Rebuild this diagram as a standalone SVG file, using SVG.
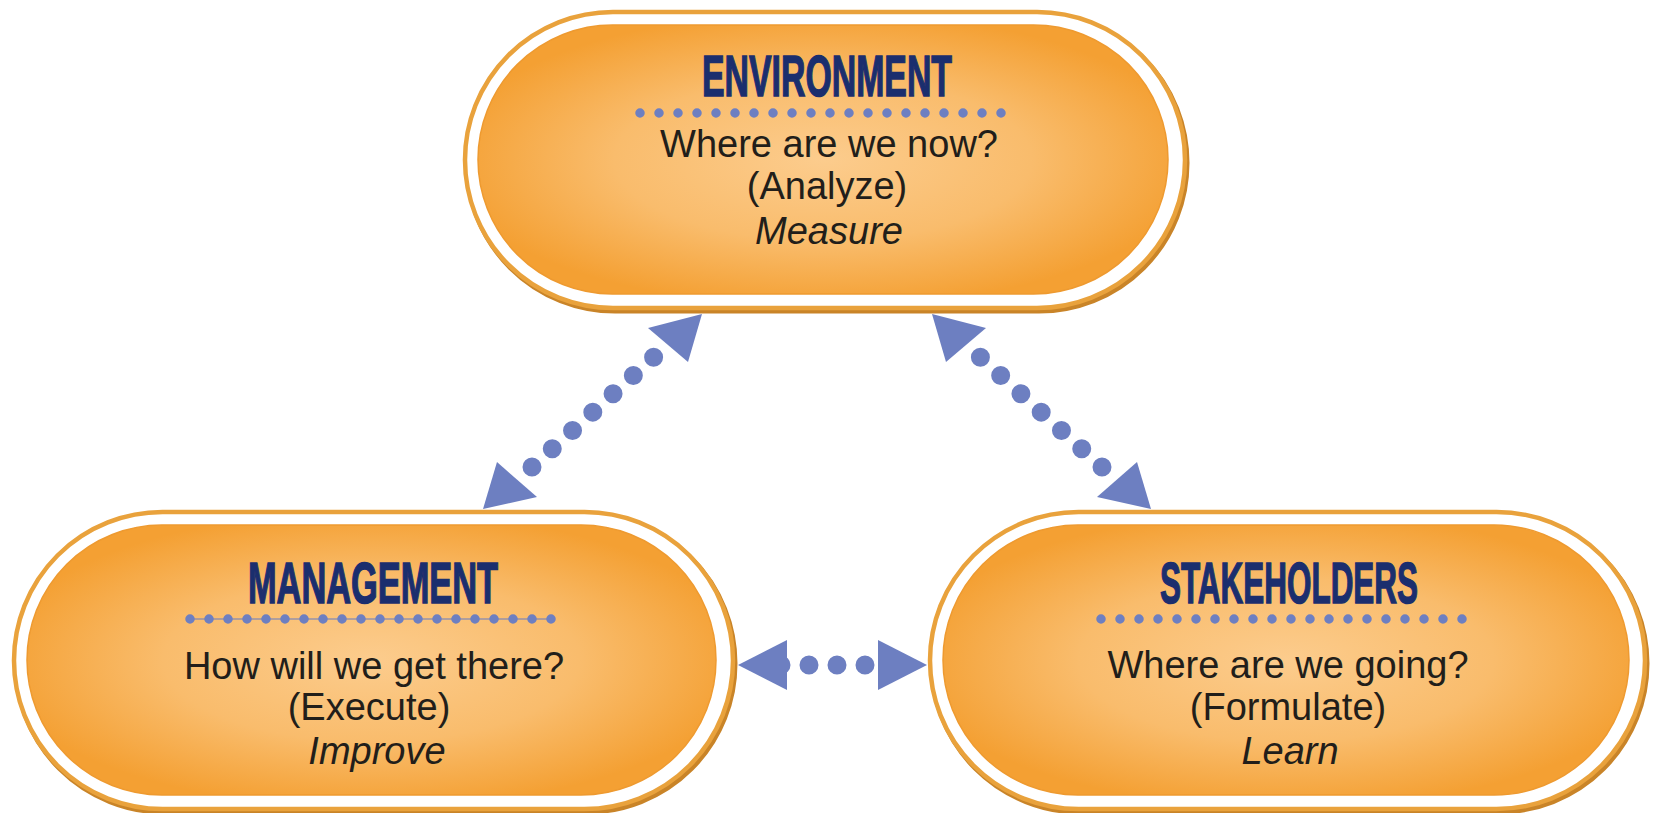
<svg xmlns="http://www.w3.org/2000/svg" width="1653" height="813" viewBox="0 0 1653 813">
  <defs>
    <radialGradient id="fillGrad" cx="50%" cy="50%" r="55%">
      <stop offset="0%" stop-color="#FCCC8D"/>
      <stop offset="55%" stop-color="#F9BC6C"/>
      <stop offset="100%" stop-color="#F4A033"/>
    </radialGradient>
  </defs>
  <style>
    .shadow { fill: none; stroke: #C98428; stroke-width: 5; }
    .outer { fill: #FFFFFF; stroke: #E9A23C; stroke-width: 4.5; }
    .inner { fill: url(#fillGrad); stroke: #EE9A30; stroke-width: 1.5; }
    .title { font-family: "Liberation Sans", Arial, sans-serif; font-weight: bold; font-size: 58px; fill: #1B2E6E; stroke: #1B2E6E; stroke-width: 1.5; }
    .body { font-family: "Liberation Sans", Arial, sans-serif; font-size: 38px; fill: #221E1A; text-anchor: middle; }
    .ital { font-style: italic; }
    .rule { stroke: #6D7FC1; stroke-width: 9.5; stroke-linecap: round; stroke-dasharray: 0 19; fill: none; }
    .thin { stroke: #6D7FC1; stroke-width: 1.5; opacity: 0.7; }
    .dots { stroke: #6D7FC1; stroke-width: 19; stroke-linecap: round; fill: none; }
    .head { fill: #6D7FC1; }
  </style>
  <rect width="1653" height="813" fill="#FFFFFF"/>

  <g id="connectors">
    <path class="dots" d="M532,467 L655,356" stroke-dasharray="0 27.3"/>
    <polygon class="head" points="702,314 648,328 688,362"/>
    <polygon class="head" points="483,509 497,462 537,497"/>
    <path class="dots" d="M1102,467 L979,356" stroke-dasharray="0 27.3"/>
    <polygon class="head" points="932,314 986,328 946,362"/>
    <polygon class="head" points="1151,509 1137,462 1097,497"/>
    <path class="dots" d="M781,665 L866,665" stroke-dasharray="0 28"/>
    <polygon class="head" points="738,665 787,640 787,690"/>
    <polygon class="head" points="927,665 878,640 878,690"/>
  </g>

  <g id="node-environment">
    <rect class="shadow" x="467" y="15" width="720" height="296" rx="148"/>
    <rect class="outer" x="465" y="12" width="720" height="296" rx="148"/>
    <rect class="inner" x="478" y="25" width="690" height="269" rx="134.5"/>
    <text class="title" x="702" y="96" textLength="250" lengthAdjust="spacingAndGlyphs">ENVIRONMENT</text>
    <line class="rule" x1="640" y1="113" x2="1002.5" y2="113"/>
    <text class="body" x="829" y="157">Where are we now?</text>
    <text class="body" x="827" y="199">(Analyze)</text>
    <text class="body ital" x="829" y="244">Measure</text>
  </g>

  <g id="node-management">
    <rect class="shadow" x="16" y="515" width="719" height="297" rx="148.5"/>
    <rect class="outer" x="14" y="512" width="719" height="297" rx="148.5"/>
    <rect class="inner" x="27" y="525" width="689" height="270" rx="135"/>
    <text class="title" x="248" y="603" textLength="250" lengthAdjust="spacingAndGlyphs">MANAGEMENT</text>
    <line class="thin" x1="190" y1="619" x2="553" y2="619"/>
    <line class="rule" x1="190" y1="619" x2="552.5" y2="619"/>
    <text class="body" x="374" y="679">How will we get there?</text>
    <text class="body" x="369" y="720">(Execute)</text>
    <text class="body ital" x="377" y="764">Improve</text>
  </g>

  <g id="node-stakeholders">
    <rect class="shadow" x="932" y="515" width="715" height="297" rx="148.5"/>
    <rect class="outer" x="930" y="512" width="715" height="297" rx="148.5"/>
    <rect class="inner" x="943" y="525" width="686" height="270" rx="135"/>
    <text class="title" x="1160" y="603" textLength="258" lengthAdjust="spacingAndGlyphs">STAKEHOLDERS</text>
    <line class="rule" x1="1101" y1="619" x2="1463.5" y2="619"/>
    <text class="body" x="1288" y="678">Where are we going?</text>
    <text class="body" x="1288" y="720">(Formulate)</text>
    <text class="body ital" x="1290" y="764">Learn</text>
  </g>
</svg>
